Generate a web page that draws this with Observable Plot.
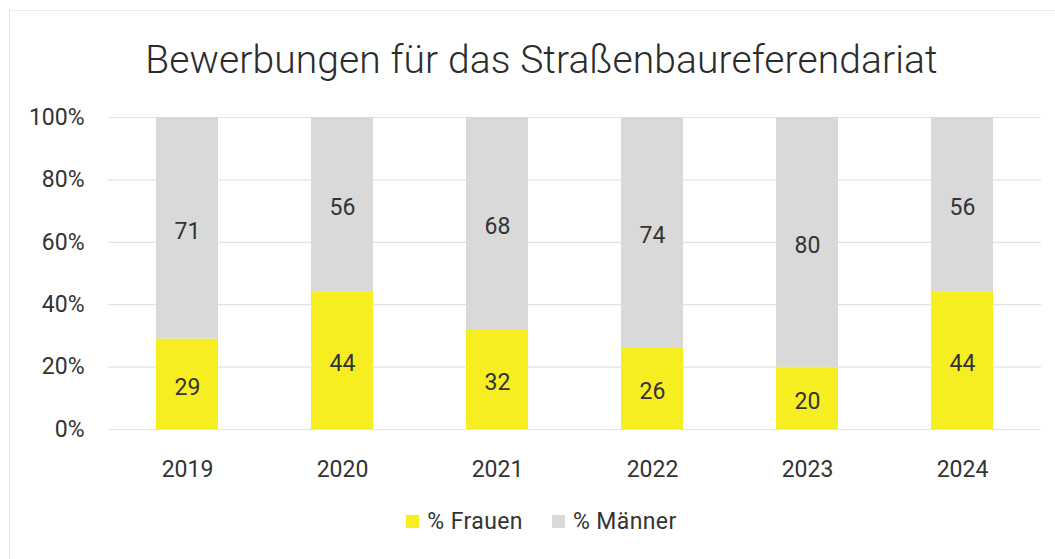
<!DOCTYPE html>
<html>
<head>
<meta charset="utf-8">
<script src="https://cdn.jsdelivr.net/npm/d3@7"></script>
<script src="https://cdn.jsdelivr.net/npm/@observablehq/plot@0.6"></script>
<style>
  html, body { margin: 0; padding: 0; background: #fff; }
  body { width: 1055px; height: 559px; overflow: hidden; position: relative; font-family: Roboto, "Liberation Sans", sans-serif; color: #333; }
  #frame { position: absolute; left: 9px; top: 10px; width: 1100px; height: 600px; border-left: 1px solid #e2e2e2; border-top: 1px solid #ececec; pointer-events: none; }
  #title { height: 95px; box-sizing: border-box; padding-top: 38px; text-align: center; font-size: 39px; font-weight: 300; line-height: 44px; color: #2b2b2b; padding-left: 28px; letter-spacing: 0.1px; }
  #legend { display: flex; justify-content: center; align-items: center; gap: 29px; font-size: 23px; color: #333; padding-left: 28px; margin-top: 13px; letter-spacing: 0.4px; }
  .item { display: flex; align-items: center; gap: 8px; }
  .sw { width: 13px; height: 13px; display: inline-block; }
</style>
</head>
<body>
<div id="frame"></div>
<div id="title">Bewerbungen für das Straßenbaureferendariat</div>
<div id="chart"></div>
<div id="legend"></div>
<script>
const years = ["2019", "2020", "2021", "2022", "2023", "2024"];
const frauen = [29, 44, 32, 26, 20, 44];
const maenner = [71, 56, 68, 74, 80, 56];
const seriesNames = ["% Frauen", "% Männer"];
const seriesColors = ["#f7ee22", "#d9d9d9"];
const yTicks = [0, 20, 40, 60, 80, 100];

const rows = [];
years.forEach((yr, i) => {
  rows.push({year: yr, series: seriesNames[0], value: frauen[i]});
  rows.push({year: yr, series: seriesNames[1], value: maenner[i]});
});

const chart = Plot.plot({
  width: 1055,
  height: 400,
  marginTop: 22,
  marginBottom: 66,
  marginLeft: 108,
  marginRight: 14,
  style: {fontFamily: "Roboto, 'Liberation Sans', sans-serif", fontSize: "23px", color: "#333", background: "transparent"},
  x: {domain: years, paddingInner: 0.6, paddingOuter: 0.3, label: null, tickSize: 0, tickPadding: 31},
  y: {domain: [0, 100], ticks: yTicks, tickFormat: d => d + "%", label: null, tickSize: 0, tickPadding: 24},
  color: {domain: seriesNames, range: seriesColors},
  marks: [
    Plot.ruleY(yTicks, {stroke: "#e3e3e3", strokeWidth: 1.2}),
    Plot.barY(rows, {x: "year", y: "value", fill: "series", order: seriesNames}),
    Plot.text(rows, Plot.stackY({x: "year", y: "value", z: "series", order: seriesNames, text: d => String(d.value), fill: "#333", fontSize: 23, dy: 3}))
  ]
});
document.getElementById("chart").appendChild(chart);

const legend = document.getElementById("legend");
seriesNames.forEach((n, i) => {
  const it = document.createElement("div");
  it.className = "item";
  const sw = document.createElement("span");
  sw.className = "sw";
  sw.style.background = seriesColors[i];
  const t = document.createElement("span");
  t.textContent = n;
  it.appendChild(sw); it.appendChild(t);
  legend.appendChild(it);
});
</script>
</body>
</html>
